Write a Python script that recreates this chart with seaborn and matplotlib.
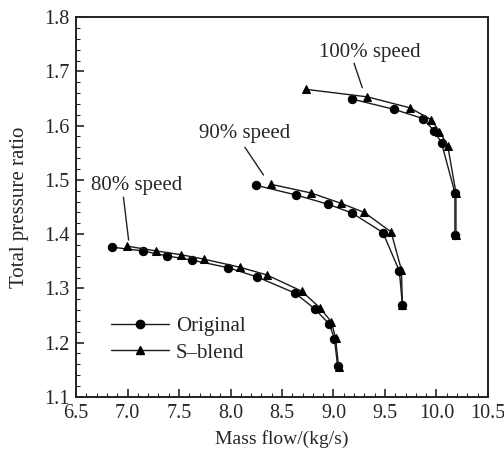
import numpy as np
import pandas as pd
import matplotlib
matplotlib.use("Agg")
import matplotlib.pyplot as plt
from matplotlib.lines import Line2D
from matplotlib.ticker import MultipleLocator
import seaborn as sns

# ---- data ----
orig80_x = [6.85, 7.15, 7.38, 7.63, 7.98, 8.26, 8.63, 8.82, 8.96, 9.01, 9.04]
orig80_y = [1.376, 1.369, 1.360, 1.352, 1.338, 1.321, 1.291, 1.262, 1.234, 1.207, 1.157]
sb80_x = [6.99, 7.28, 7.52, 7.74, 8.09, 8.35, 8.69, 8.87, 8.98, 9.02, 9.05]
sb80_y = [1.378, 1.369, 1.362, 1.354, 1.339, 1.325, 1.295, 1.264, 1.238, 1.209, 1.155]

orig90_x = [8.25, 8.64, 8.95, 9.18, 9.48, 9.64, 9.67]
orig90_y = [1.490, 1.472, 1.455, 1.439, 1.403, 1.332, 1.269]
sb90_x = [8.39, 8.78, 9.07, 9.30, 9.56, 9.66, 9.67]
sb90_y = [1.492, 1.476, 1.457, 1.440, 1.404, 1.334, 1.269]

orig100_x = [9.18, 9.59, 9.87, 9.98, 10.05, 10.18, 10.18]
orig100_y = [1.649, 1.630, 1.613, 1.590, 1.568, 1.476, 1.398]
sb100_x = [8.73, 9.33, 9.74, 9.95, 10.03, 10.11, 10.19, 10.19]
sb100_y = [1.667, 1.653, 1.633, 1.611, 1.589, 1.563, 1.476, 1.398]

speed_labels = ["80% speed", "90% speed", "100% speed"]
label_pos = [(7.09, 1.490), (8.14, 1.586), (9.35, 1.735)]
leader_start = [(6.96, 1.468), (8.14, 1.560), (9.20, 1.715)]
leader_end = [(7.01, 1.389), (8.32, 1.509), (9.28, 1.670)]

x_ticks = [6.5, 7.0, 7.5, 8.0, 8.5, 9.0, 9.5, 10.0, 10.5]
y_ticks = [1.1, 1.2, 1.3, 1.4, 1.5, 1.6, 1.7, 1.8]

# ---- build long table ----
rows = []
for spd, (ox, oy, sx, sy) in zip(
        ["80%", "90%", "100%"],
        [(orig80_x, orig80_y, sb80_x, sb80_y),
         (orig90_x, orig90_y, sb90_x, sb90_y),
         (orig100_x, orig100_y, sb100_x, sb100_y)]):
    for x, y in zip(ox, oy):
        rows.append(dict(flow=x, ratio=y, design="Original", curve=spd + "O"))
    for x, y in zip(sx, sy):
        rows.append(dict(flow=x, ratio=y, design="S-blend", curve=spd + "S"))
df = pd.DataFrame(rows)

sns.set_style("ticks")
plt.rcParams["font.family"] = ["Liberation Serif", "DejaVu Serif"]

fig = plt.figure(figsize=(5.04, 4.51), dpi=100)
ax = fig.add_axes([0.151, 0.12, 0.817, 0.842])

sns.lineplot(data=df, x="flow", y="ratio", units="curve", style="design",
             estimator=None, sort=False, markers={"Original": "o", "S-blend": "^"},
             dashes=False, color="#1a1a1a", linewidth=1.0, markersize=6,
             markeredgecolor="black", markerfacecolor="black", legend=False, ax=ax)

for lab, (tx, ty), (x0, y0), (x1, y1) in zip(speed_labels, label_pos, leader_start, leader_end):
    ax.text(tx, ty, lab, ha="center", va="center", fontsize=15)
    ax.plot([x0, x1], [y0, y1], color="#222222", linewidth=1.0)

ax.set_xlim(6.5, 10.5)
ax.set_ylim(1.1, 1.8)
ax.set_xticks(x_ticks)
ax.set_yticks(y_ticks)
ax.set_xticklabels([f"{v:.1f}" for v in x_ticks])
ax.set_yticklabels([f"{v:.1f}" for v in y_ticks])
ax.xaxis.set_minor_locator(MultipleLocator(0.1))
ax.yaxis.set_minor_locator(MultipleLocator(0.02))
ax.tick_params(which="both", direction="in", top=False, right=False, labelsize=14.5)
ax.tick_params(which="major", length=6, width=1.2, pad=5)
ax.tick_params(which="minor", length=3, width=0.8)
for s in ax.spines.values():
    s.set_visible(True)
    s.set_linewidth(1.4)
    s.set_color("#222222")

ax.set_xlabel("Mass flow/(kg/s)", fontsize=14)
ax.set_ylabel("Total pressure ratio", fontsize=15)
ax.xaxis.set_label_coords(0.5, -0.087)
ax.yaxis.set_label_coords(-0.115, 0.5)

handles = [
    Line2D([], [], color="#1a1a1a", lw=1.0, marker="o", markersize=6, mfc="black", mec="black"),
    Line2D([], [], color="#1a1a1a", lw=1.0, marker="^", markersize=6, mfc="black", mec="black"),
]
ax.legend(handles, ["Original", "S\u2013blend"], loc="lower left",
          bbox_to_anchor=(0.085, 0.09), frameon=False, fontsize=15,
          handlelength=2.8, handletextpad=0.3, labelspacing=0.35,
          borderaxespad=0, borderpad=0)

fig.savefig("out.png", dpi=100)
